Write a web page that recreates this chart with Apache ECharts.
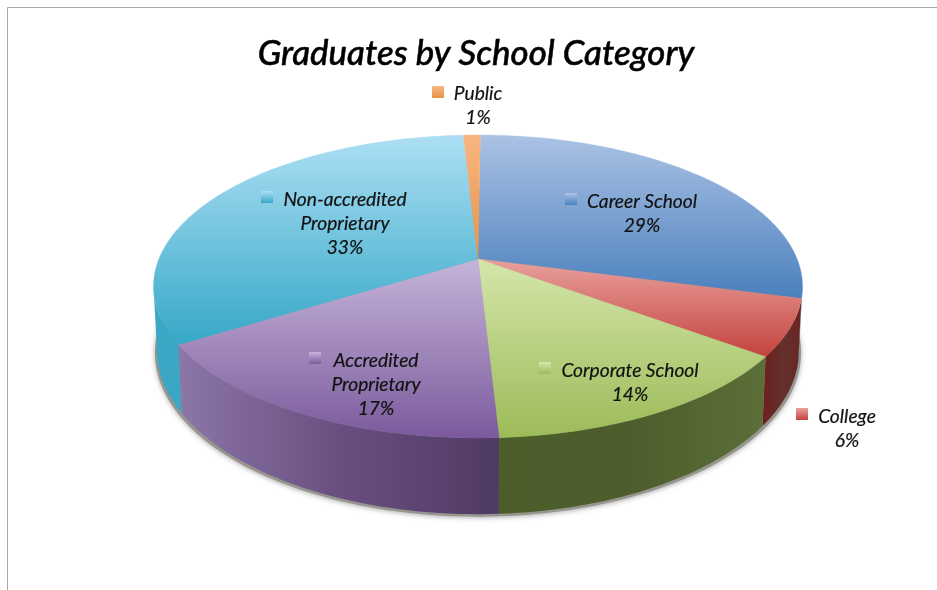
<!DOCTYPE html>
<html>
<head>
<meta charset="utf-8">
<style>html,body{margin:0;padding:0;background:#fff}#chart{width:937px;height:590px}</style>
<script src="https://cdn.jsdelivr.net/npm/echarts@6/dist/echarts.min.js"></script>
</head>
<body>
<div id="chart"></div>
<script>
// School categories, clockwise from twelve o'clock, with their share of graduates in percent.
const categories = ['Career School', 'College', 'Corporate School', 'Accredited\nProprietary', 'Non-accredited\nProprietary', 'Public'];
const shares = [29, 6, 14, 17, 33, 1];

// Face shading per slice: [top colour, bottom colour]
const faceColors = [
  ['#abc2e4', '#4a80bd'],
  ['#e9a19e', '#c4423d'],
  ['#d5e6ab', '#9cbb58'],
  ['#c6b5da', '#7a5a9c'],
  ['#addff4', '#36a8c7'],
  ['#f8b682', '#ea9345']
];
// Rim shading per slice: [left colour, middle colour, right colour]
const rimColors = [
  ['#2f5a8c', '#2f5a8c', '#2f5a8c'],
  ['#6e1f1c', '#63302d', '#6a2623'],
  ['#4b5e2a', '#4d5d2c', '#5c6f38'],
  ['#8c77a8', '#694f80', '#4f3a64'],
  ['#3aa7c4', '#3aa7c4', '#3aa7c4'],
  ['#b0712f', '#b0712f', '#b0712f']
];
// Label placement: centre of the text block and centre of its colour key.
const labelSpots = [
  { x: 642, y: 213.7, kx: 571, ky: 199 },
  { x: 847, y: 428.7, kx: 802, ky: 414 },
  { x: 630, y: 382.7, kx: 545, ky: 368 },
  { x: 376, y: 384.7, kx: 315, ky: 358 },
  { x: 345, y: 223.7, kx: 267, ky: 197 },
  { x: 478, y: 106, kx: 438, ky: 92 }
];

// Perspective projection of the disc: tilt is the foreshortening term,
// hub is where the disc's centre lands, sx and sy its screen scales.
const tilt = 0.1815;
const topDisc = { hubX: 478, hubY: 259, sx: 319.1, sy: 146.5 };
const baseDisc = { hubX: 478, hubY: 320.3, sx: 315.7, sy: 158.7 };
const startAngle = 0.5;
const rimFrom = 100.4, rimTo = 259.6;

function project(disc, deg) {
  const t = deg * Math.PI / 180;
  const X = Math.sin(t), Y = -Math.cos(t);
  const w = 1 - tilt * Y;
  return [disc.hubX + disc.sx * X / w, disc.hubY + disc.sy * Y / w];
}
function arc(disc, from, to) {
  const pts = [];
  const steps = Math.max(2, Math.ceil(Math.abs(to - from) / 1.5));
  for (let i = 0; i <= steps; i++) pts.push(project(disc, from + (to - from) * i / steps));
  return pts;
}
const total = shares.reduce((a, b) => a + b, 0);
function sliceRange(index) {
  let before = 0;
  for (let i = 0; i < index; i++) before += shares[i];
  return [startAngle + before / total * 360, startAngle + (before + shares[index]) / total * 360];
}
function gradient(x2, y2, stops) {
  return { type: 'linear', x: 0, y: 0, x2, y2, colorStops: stops.map((c, i) => ({ offset: i / (stops.length - 1), color: c })) };
}

const labelFont = { fontFamily: 'Lato', fontStyle: 'italic', fontSize: 19.2, lineHeight: 24, fill: '#111', stroke: '#111', lineWidth: 0.2 };

const option = {
  animation: false,
  backgroundColor: '#ffffff',
  title: {
    text: 'Graduates by School Category',
    left: 471, top: 31, textAlign: 'center',
    textStyle: { fontFamily: 'Lato', fontStyle: 'italic', fontWeight: 500, fontSize: 34.8, color: '#000', textBorderColor: '#000', textBorderWidth: 0.5 }
  },
  graphic: [
    // Chart frame along the top and left edges
    { type: 'polyline', silent: true, z: 0, shape: { points: [[7.5, 590], [7.5, 7.5], [937, 7.5]] }, style: { fill: 'none', stroke: '#a8a8a8', lineWidth: 1 } }
  ],
  series: [
    {
      // Soft contact shadow under the disc
      type: 'custom', coordinateSystem: 'none', silent: true, z: 1, data: [[total]],
      renderItem() {
        const outline = arc(Object.assign({}, baseDisc, { sx: baseDisc.sx + 2 }), 0, 360).map(p => [p[0], p[1] + 2.5]);
        return {
          type: 'polygon', shape: { points: outline },
          style: { fill: '#96968f', shadowBlur: 5, shadowColor: 'rgba(90,90,90,0.5)', shadowOffsetY: 1 }
        };
      }
    },
    {
      // Rim of each slice between the upper and the lower disc
      type: 'custom', coordinateSystem: 'none', silent: true, z: 2,
      data: shares.map(v => [v]),
      renderItem(params) {
        const i = params.dataIndex;
        const r = sliceRange(i);
        const from = Math.max(r[0], rimFrom), to = Math.min(r[1], rimTo);
        if (to <= from) return null;
        const pts = arc(topDisc, from, to).concat(arc(baseDisc, from, to).reverse());
        return { type: 'polygon', shape: { points: pts }, style: { fill: gradient(1, 0, rimColors[i]) } };
      }
    },
    {
      // Upper faces of the slices
      type: 'custom', coordinateSystem: 'none', silent: true, z: 3,
      data: shares.map(v => [v]),
      renderItem(params) {
        const i = params.dataIndex;
        const r = sliceRange(i);
        const pts = [[topDisc.hubX, topDisc.hubY]].concat(arc(topDisc, r[0], r[1]));
        const fill = gradient(0, 1, faceColors[i]);
        return { type: 'polygon', shape: { points: pts }, style: { fill, stroke: fill, lineWidth: 0.4 } };
      }
    },
    {
      // Colour key and category / percentage text of each slice
      type: 'custom', coordinateSystem: 'none', silent: true, z: 4,
      data: shares.map(v => [v]),
      renderItem(params, api) {
        const i = params.dataIndex;
        const spot = labelSpots[i];
        return {
          type: 'group',
          children: [
            {
              type: 'rect', shape: { x: spot.kx - 6, y: spot.ky - 6, width: 12, height: 12 },
              style: { fill: gradient(0, 1, faceColors[i]) }
            },
            {
              type: 'text',
              style: Object.assign({ text: categories[i] + '\n' + api.value(0) + '%', x: spot.x, y: spot.y, align: 'center', verticalAlign: 'middle' }, labelFont)
            }
          ]
        };
      }
    }
  ]
};

echarts.init(document.getElementById('chart'), null, { renderer: 'canvas' }).setOption(option);
</script>
</body>
</html>
